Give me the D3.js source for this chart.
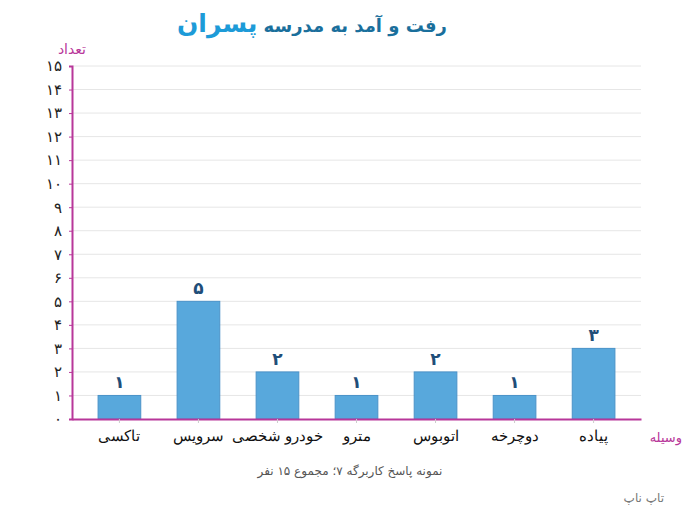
<!DOCTYPE html>
<html>
<head>
<meta charset="utf-8">
<script src="https://cdn.jsdelivr.net/npm/d3@7"></script>
<style>
  body { margin: 0; background: #fff; }
  svg { font-family: "DejaVu Sans", sans-serif; }
</style>
</head>
<body>
<script>
// data
const categories = ['تاکسی', 'سرویس', 'خودرو شخصی', 'مترو', 'اتوبوس', 'دوچرخه', 'پیاده']
const counts = [1, 5, 2, 1, 2, 1, 3]
const countLabels = ['۱', '۵', '۲', '۱', '۲', '۱', '۳']
const yTicks = d3.range(0, 16)
const yTickLabels = ['۰', '۱', '۲', '۳', '۴', '۵', '۶', '۷', '۸', '۹', '۱۰', '۱۱', '۱۲', '۱۳', '۱۴', '۱۵']

const width = 700
const height = 513
const axisColor = '#b8379a'

const svg = d3.select('body')
    .append('svg')
    .attr('width', width)
    .attr('height', height)

const x = d3.scaleBand()
    .domain(categories)
    .range([72, 641])
    .paddingInner(0.46)
    .paddingOuter(0.33)

const y = d3.scaleLinear()
    .domain([0, 15])
    .range([419, 66])

// grid
svg.append('g')
    .selectAll('line')
    .data(yTicks.slice(1))
    .enter()
    .append('line')
    .attr('x1', 72)
    .attr('x2', 641)
    .attr('y1', (d) => y(d))
    .attr('y2', (d) => y(d))
    .attr('stroke', '#e6e6e6')
    .attr('stroke-width', 1)

// bars
svg.append('g')
    .selectAll('rect')
    .data(counts)
    .enter()
    .append('rect')
    .attr('x', (d, i) => x(categories[i]))
    .attr('y', (d) => y(d))
    .attr('width', x.bandwidth())
    .attr('height', (d) => y(0) - y(d))
    .attr('fill', '#58a8dc')
    .attr('stroke', '#4a93c9')
    .attr('stroke-width', 1)

// value labels
svg.append('g')
    .selectAll('text')
    .data(counts)
    .enter()
    .append('text')
    .attr('x', (d, i) => x(categories[i]) + x.bandwidth() / 2)
    .attr('y', (d) => y(d) - 7)
    .attr('text-anchor', 'middle')
    .style('font-size', '17px')
    .style('font-weight', 'bold')
    .attr('fill', '#1f4e79')
    .text((d, i) => countLabels[i])

// y axis
const yAxis = d3.axisLeft(y)
    .tickValues(yTicks)
    .tickSize(3)
    .tickFormat((d, i) => yTickLabels[i])

const gy = svg.append('g')
    .attr('transform', 'translate(72,0)')
    .call(yAxis)
gy.select('.domain').attr('stroke', axisColor).attr('stroke-width', 2)
gy.selectAll('.tick line').attr('stroke', axisColor)
gy.selectAll('.tick text')
    .attr('x', -10)
    .style('font-size', '15px')
    .attr('fill', '#222')

// x axis
const xAxis = d3.axisBottom(x)
    .tickSize(4)
    .tickSizeOuter(0)

const gx = svg.append('g')
    .attr('transform', 'translate(0,419)')
    .call(xAxis)
gx.select('.domain').attr('stroke', axisColor).attr('stroke-width', 2)
gx.selectAll('.tick line').attr('stroke', '#ccc')
gx.selectAll('.tick text')
    .attr('y', 11)
    .style('font-size', '15px')
    .attr('fill', '#111')

// axis titles
svg.append('text')
    .attr('x', 86)
    .attr('y', 54)
    .attr('text-anchor', 'end')
    .style('font-size', '14px')
    .attr('fill', axisColor)
    .text('تعداد')

svg.append('text')
    .attr('x', 682)
    .attr('y', 442)
    .attr('text-anchor', 'end')
    .style('font-size', '13px')
    .attr('fill', axisColor)
    .text('وسیله')

// title
const title = svg.append('text')
    .attr('x', 312)
    .attr('y', 32)
    .attr('text-anchor', 'middle')
    .attr('direction', 'rtl')
    .style('font-weight', 'bold')
title.append('tspan')
    .attr('fill', '#1a6f9c')
    .style('font-size', '18px')
    .text('رفت و آمد به مدرسه ')
title.append('tspan')
    .attr('fill', '#1d9bd8')
    .style('font-size', '25px')
    .text('پسران')

// footer
svg.append('text')
    .attr('x', 350)
    .attr('y', 475)
    .attr('text-anchor', 'middle')
    .attr('direction', 'rtl')
    .style('font-size', '12px')
    .attr('fill', '#555')
    .text('نمونه پاسخ کاربرگه ۷؛ مجموع ۱۵ نفر')

svg.append('text')
    .attr('x', 664)
    .attr('y', 502)
    .attr('text-anchor', 'end')
    .style('font-size', '12px')
    .attr('fill', '#777')
    .text('تاپ ناپ')
</script>
</body>
</html>
